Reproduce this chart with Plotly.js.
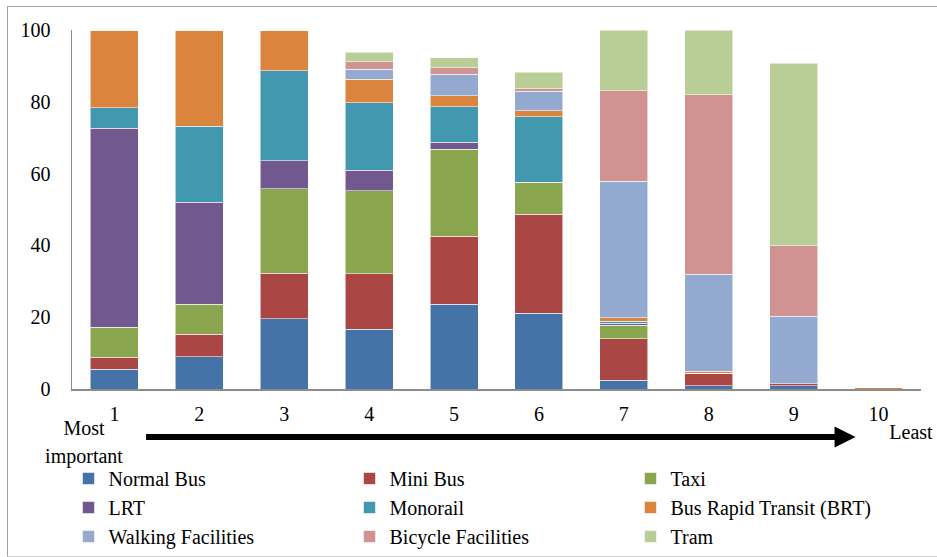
<!DOCTYPE html>
<html>
<head>
<meta charset="utf-8">
<script src="https://cdn.plot.ly/plotly-3.0.1.min.js"></script>
<style>
  html, body { margin: 0; padding: 0; background: #fff; }
  #wrap { position: relative; width: 937px; height: 557px; overflow: hidden; }
  #chart { position: absolute; left: 0; top: 0; width: 937px; height: 557px; }
  #frame { position: absolute; left: 7px; top: 6px; width: 960px; height: 549px;
           border: 1px solid #a0a0a0; border-bottom-color: #d8d8d8; pointer-events: none; }
  .lbl { position: absolute; font-size: 20px; line-height: 22px; color: #000;
         white-space: nowrap; transform: translate(-50%, -50%); }
</style>
</head>
<body>
<div id="wrap">
  <div class="lbl" style="left:84px; top:428px; font-family:'Liberation Serif', 'DejaVu Serif', serif;">Most</div>
  <div class="lbl" style="left:84px; top:456px; font-family:'Liberation Serif', 'DejaVu Serif', serif;">important</div>
  <div class="lbl" id="least" style="left:911px; top:432px; font-family:'Liberation Serif', 'DejaVu Serif', serif;">Least</div>
  <div id="chart"></div>
  <div id="frame"></div>
</div>
<script>
// Importance rank (1 = most important, 10 = least important)
const ranks = ['1', '2', '3', '4', '5', '6', '7', '8', '9', '10'];

// Share of respondents (%) giving each rank to each mode
const normalBus   = [5.5, 9.0, 19.6, 16.6, 23.6, 21.1, 2.5, 0.9, 0.9, 0];
const miniBus     = [3.3, 6.3, 12.6, 15.5, 18.9, 27.6, 11.5, 3.5, 0.6, 0];
const taxi        = [8.4, 8.3, 23.6, 23.1, 24.3, 8.9, 3.7, 0, 0, 0];
const lrt         = [55.4, 28.4, 7.8, 5.7, 1.9, 0, 0.6, 0, 0, 0];
const monorail    = [5.8, 21.2, 25.1, 18.8, 9.9, 18.3, 0.6, 0, 0, 0];
const brt         = [21.6, 26.8, 11.3, 6.6, 3.1, 1.6, 1.0, 0.5, 0, 0.3];
const walking     = [0, 0, 0, 2.8, 6.0, 5.5, 38.0, 27.0, 18.7, 0];
const bicycle     = [0, 0, 0, 2.0, 1.8, 0.6, 25.2, 50.0, 19.7, 0];
const tram        = [0, 0, 0, 2.7, 2.8, 4.7, 16.9, 18.1, 50.8, 0];

const seriesNames = ['Normal Bus', 'Mini Bus', 'Taxi', 'LRT', 'Monorail',
                     'Bus Rapid Transit (BRT)', 'Walking Facilities',
                     'Bicycle Facilities', 'Tram'];
const seriesValues = [normalBus, miniBus, taxi, lrt, monorail, brt, walking, bicycle, tram];
const seriesColors = ['#4572A7', '#AA4643', '#89A54E', '#71588F', '#4198AF',
                      '#DB843D', '#93A9CF', '#D19392', '#B9CD96'];

// a fresh font spec for every text element
const SERIF = '"Liberation Serif", "DejaVu Serif", serif';
const serif = () => ({ family: SERIF, size: 20 });

const traces = seriesNames.map((name, i) => ({
  type: 'bar',
  name: name,
  x: ranks,
  y: seriesValues[i],
  marker: { color: seriesColors[i], line: { color: 'rgba(255,255,255,0.55)', width: 1 } },
  hoverinfo: 'name+y'
}));

// pixel -> paper helpers for the plot area (l=71.5, r=15.5, t=30, b=168)
const PL = 71.5, PW = 850, PT = 30, PH = 359;
const px = v => (v - PL) / PW;
const py = v => (PT + PH - v) / PH;

const layout = {
  width: 937,
  height: 557,
  barmode: 'stack',
  bargap: 0.435,
  paper_bgcolor: 'rgba(0,0,0,0)',
  plot_bgcolor: 'rgba(0,0,0,0)',
  margin: { l: PL, r: 937 - PL - PW, t: PT, b: 557 - PT - PH, pad: 0, autoexpand: false },
  font: { family: SERIF, size: 20, color: '#000000' },
  xaxis: {
    type: 'category',
    automargin: false,
    showline: true,
    linecolor: '#8c8c8c',
    linewidth: 1.5,
    ticks: '',
    showgrid: false,
    zeroline: false,
    ticklabelstandoff: 6,
    tickfont: serif()
  },
  yaxis: {
    range: [0, 100],
    automargin: false,
    tickvals: [0, 20, 40, 60, 80, 100],
    showline: true,
    linecolor: '#8c8c8c',
    linewidth: 1.5,
    ticks: '',
    showgrid: false,
    zeroline: false,
    ticklabelstandoff: 16,
    tickfont: serif()
  },
  showlegend: true,
  legend: {
    orientation: 'h',
    x: px(68),
    xanchor: 'left',
    y: py(459),
    yanchor: 'top',
    bgcolor: 'rgba(255,255,255,0)',
    traceorder: 'normal',
    entrywidthmode: 'pixels',
    entrywidth: 236,
    font: serif()
  },
  annotations: [
    // importance direction arrow, from "Most important" towards "Least"
    { xref: 'paper', yref: 'paper', x: px(856), y: py(437), text: '',
      showarrow: true, ax: -711, ay: 0, arrowhead: 2, arrowsize: 0.7,
      arrowwidth: 6, arrowcolor: '#000', standoff: 0 }
  ]
};

Plotly.newPlot('chart', traces, layout, { displayModeBar: false, staticPlot: true });
</script>
</body>
</html>
